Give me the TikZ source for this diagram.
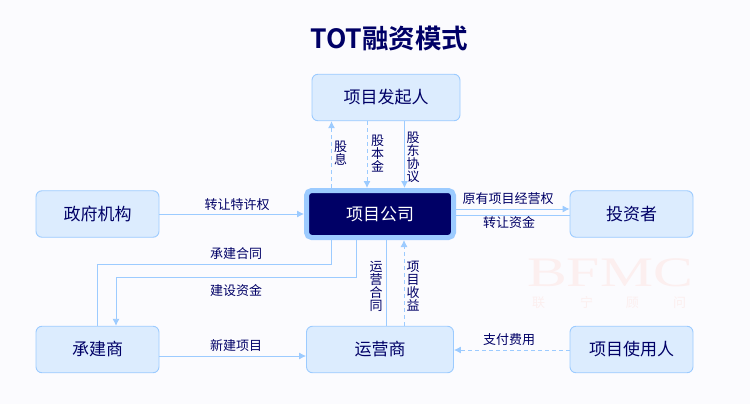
\documentclass[tikz,border=0pt]{standalone}
\usepackage{fontspec}
\setmainfont{Noto Sans CJK SC}[BoldFont={Noto Sans CJK SC Bold}]
\newfontfamily\wmserif{Liberation Serif}
\usetikzlibrary{arrows.meta}
\definecolor{bgc}{HTML}{FBFBFE}
\definecolor{navyc}{HTML}{000066}
\definecolor{linec}{HTML}{9CCBFF}
\definecolor{fillc}{HTML}{DCECFE}
\definecolor{wmc}{HTML}{FCEFEF}
\newcommand\vstk[1]{\vbox{\baselineskip=13pt\relax\lineskiplimit=-20pt\relax\halign{\hfil##\hfil\cr#1\crcr}}}
\tikzset{
  x=1pt,y=-1pt,
  boxn/.style={draw=linec,fill=fillc,rounded corners=6pt,line width=0.9pt,text=navyc,font=\fontsize{17}{20}\selectfont,inner sep=0pt,minimum width=#1,minimum height=46.5pt},
  boxn/.default=123pt,
  corebox/.style={draw=linec,fill=navyc,rounded corners=5pt,line width=5pt,text=white,font=\fontsize{17}{20}\selectfont,inner sep=0pt,minimum width=147pt,minimum height=47pt},
  conn/.style={draw=linec,line width=0.9pt},
  arr/.style={conn,-{Latex[length=7pt,width=7pt]}},
  dashline/.style={dash pattern=on 4pt off 3pt},
  lab/.style={text=navyc,font=\fontsize{13}{14}\selectfont,inner sep=0pt,align=center},
  vlab/.style={text=navyc,font=\fontsize{13}{13}\selectfont,inner sep=0pt},
  wm/.style={text=wmc,inner sep=0pt},
}
\begin{document}
\begin{tikzpicture}
\useasboundingbox[fill=bgc] (0,0) rectangle (750,404);
% watermark
\node[wm,font=\wmserif\fontsize{42}{42}\selectfont,xscale=1.42] (wma) at (610,272.5) {BFMC};
\node[wm,font=\fontsize{13}{13}\selectfont] (wmb) at (609,303) {联\hspace{35pt}宁\hspace{33pt}顾\hspace{34pt}问};
% title
\node[text=navyc,font=\fontsize{26.5}{30}\selectfont\bfseries,inner sep=0pt] (title) at (389.5,38) {TOT融资模式};
% boxes
\node[boxn=148pt] (fa) at (386,97.5) {项目发起人};
\node[corebox] (gs) at (380,214) {项目公司};
\node[boxn] (zf) at (97.5,214) {政府机构};
\node[boxn] (tz) at (631.5,214) {投资者};
\node[boxn] (cj) at (97.5,349.5) {承建商};
\node[boxn=147pt] (yy) at (380,349.5) {运营商};
\node[boxn] (sy) at (631.5,349.5) {项目使用人};
% connectors
\draw[arr,dashline] ([xshift=-48.5pt]gs.north) -- ([xshift=-54.5pt]fa.south);
\draw[arr,dashline] ([xshift=-19pt]fa.south) -- ([xshift=-13pt]gs.north);
\draw[arr] ([xshift=18.5pt]fa.south) -- ([xshift=24.5pt]gs.north);
\draw[arr] (zf.east) -- (gs.west);
\draw[arr] ([yshift=5pt]gs.east) -- ([yshift=5pt]tz.west);
\draw[conn] ([yshift=-1pt]tz.west) -- ([yshift=-1pt]gs.east);
\draw[conn] ([xshift=-48.5pt]gs.south) |- (97.5,264) -- (cj.north);
\draw[arr] ([xshift=-24pt]gs.south) |- (116,277) -- ([xshift=18.5pt]cj.north);
\draw[arr] ([yshift=-6.5pt]cj.east) -- ([yshift=-6.5pt]yy.west);
\draw[conn] ([xshift=6pt]yy.north) -- ([xshift=6pt]gs.south);
\draw[arr,dashline] ([xshift=24pt]yy.north) -- ([xshift=24pt]gs.south);
\draw[arr,dashline] ([yshift=-0.5pt]sy.west) -- ([yshift=-0.5pt]yy.east);
% labels
\node[vlab] (l1) at (340.5,153) {\vstk{股\cr 息}};
\node[vlab] (l2) at (377.5,154) {\vstk{股\cr 本\cr 金}};
\node[vlab] (l3) at (413,157) {\vstk{股\cr 东\cr 协\cr 议}};
\node[lab] (l4) at (237,205) {转让特许权};
\node[lab] (l5) at (508,199) {原有项目经营权};
\node[lab] (l6) at (509,223) {转让资金};
\node[lab] (l7) at (236,254) {承建合同};
\node[lab] (l8) at (236,291) {建设资金};
\node[lab] (l9) at (236,346) {新建项目};
\node[lab] (l10) at (509,340) {支付费用};
\node[vlab] (l11) at (376,286) {\vstk{运\cr 营\cr 合\cr 同}};
\node[vlab] (l12) at (413,286) {\vstk{项\cr 目\cr 收\cr 益}};
\end{tikzpicture}
\end{document}
